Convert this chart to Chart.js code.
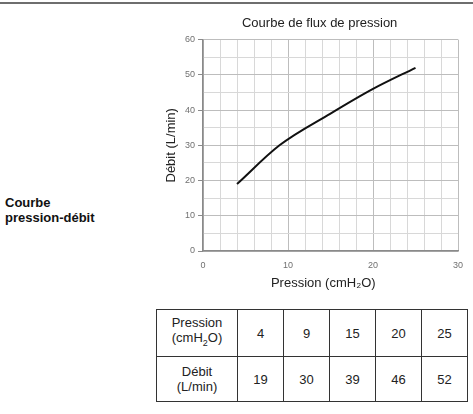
<!DOCTYPE html>
<html>
<head>
<meta charset="utf-8">
<script src="https://cdn.jsdelivr.net/npm/chart.js@4"></script>
<style>
  body { margin: 0; width: 473px; height: 414px; background: #fff; position: relative; overflow: hidden; font-family: "Liberation Sans", Arial, sans-serif; }
  #topline { position: absolute; left: 0; top: 2px; width: 473px; height: 2px; background: #6e6e6e; }
  #label { position: absolute; left: 5px; top: 195px; font-weight: bold; font-size: 13px; line-height: 15px; color: #111; }
  #wrap { position: absolute; left: 0; top: 0; width: 473px; height: 300px; }
  #tbl { position: absolute; left: 156px; top: 309px; border-collapse: collapse; font-size: 13px; color: #222; }
  #tbl td { border: 1px solid #333; text-align: center; padding: 0; line-height: 15px; }
  #tbl td.head { width: 80px; }
  #tbl td.val { width: 45px; }
  #tbl tr.r1 td { height: 46px; }
  #tbl tr.r2 td { height: 44px; }
</style>
</head>
<body>
<div id="topline"></div>
<div id="label">Courbe<br>pression-débit</div>
<div id="wrap"><canvas id="pressure-chart"></canvas></div>
<table id="tbl">
  <tr class="r1" id="row-p"><td class="head">Pression<br>(cmH<sub style="font-size:9px">2</sub>O)</td></tr>
  <tr class="r2" id="row-d"><td class="head">Débit<br>(L/min)</td></tr>
</table>
<script>
const pression = [4, 9, 15, 20, 25];
const debit = [19, 30, 39, 46, 52];

const x_ticks = [0, 10, 20, 30];
const y_ticks = [0, 10, 20, 30, 40, 50, 60];

// fill the table from the same arrays
function add_cells(row_id, values) {
    const row = document.getElementById(row_id);
    values.forEach(v => {
        const td = document.createElement('td');
        td.className = 'val';
        td.textContent = v;
        row.appendChild(td);
    });
}
add_cells('row-p', pression);
add_cells('row-d', debit);

const points = pression.map((p, i) => ({x: p, y: debit[i]}));

const grid_color = (ctx) => (ctx.tick && ctx.tick.value % 10 === 0) ? '#bdbdbd' : '#d8d8d8';

const config = {
    type: 'line',
    data: {
        datasets: [{
            label: 'débit',
            data: points,
            borderColor: '#111',
            borderWidth: 2,
            pointRadius: 0,
            cubicInterpolationMode: 'monotone',
            fill: false,
        }]
    },
    options: {
        responsive: true,
        maintainAspectRatio: false,
        animation: false,
        layout: {
            padding: {left: 150, right: 15, top: 8, bottom: 0}
        },
        plugins: {
            legend: { display: false },
            tooltip: { enabled: false },
            title: {
                display: true,
                fullSize: false,
                text: 'Courbe de flux de pression      ',
                color: '#222',
                font: { family: 'Liberation Sans', size: 13, weight: 'normal' },
                padding: { top: 8, bottom: 8 }
            }
        },
        scales: {
            x: {
                type: 'linear',
                min: 0,
                max: 30,
                afterFit: (scale) => { scale.height = 49; },
                ticks: {
                    stepSize: 2,
                    color: '#707070',
                    font: { family: 'Liberation Sans', size: 9 },
                    padding: 3,
                    maxRotation: 0,
                    autoSkip: false,
                    callback: (v) => x_ticks.includes(v) ? v : ''
                },
                grid: {
                    color: grid_color,
                    tickColor: 'transparent',
                    tickLength: 6,
                    lineWidth: 1
                },
                border: { color: '#8a8a8a', width: 1.5 },
                title: {
                    display: true,
                    text: 'Pression (cmH₂O)    ',
                    color: '#222',
                    font: { family: 'Liberation Sans', size: 13 },
                    padding: { top: 0, bottom: 9 }
                }
            },
            y: {
                min: 0,
                max: 60,
                afterFit: (scale) => { scale.width = 53; },
                ticks: {
                    stepSize: 5,
                    color: '#707070',
                    font: { family: 'Liberation Sans', size: 9 },
                    padding: 3,
                    autoSkip: false,
                    callback: (v) => y_ticks.includes(v) ? v : ''
                },
                grid: {
                    color: grid_color,
                    tickColor: (ctx) => (ctx.tick && ctx.tick.value % 10 === 0) ? '#8a8a8a' : 'transparent',
                    tickLength: 5,
                    lineWidth: 1
                },
                border: { color: '#8a8a8a', width: 1.5 },
                title: {
                    display: true,
                    text: 'Débit (L/min)',
                    color: '#222',
                    font: { family: 'Liberation Sans', size: 13 },
                    padding: { top: 14, bottom: 0 }
                }
            }
        }
    }
};

const ctx = document.getElementById('pressure-chart').getContext('2d');
const chart = new Chart(ctx, config);
</script>
</body>
</html>
